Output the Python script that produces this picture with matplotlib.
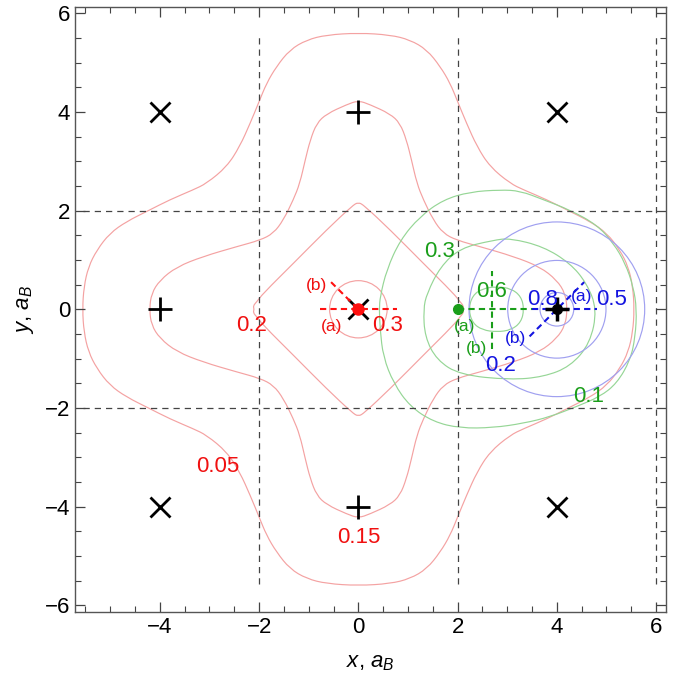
import numpy as np
import matplotlib
matplotlib.use("Agg")
import matplotlib.pyplot as plt
from matplotlib.patches import Circle, PathPatch
from matplotlib.path import Path

plt.rcParams['font.family'] = ['Liberation Sans', 'DejaVu Sans']
plt.rcParams['mathtext.fontset'] = 'custom'
plt.rcParams['mathtext.rm'] = 'Liberation Sans'
plt.rcParams['mathtext.it'] = 'Liberation Sans:italic'

# red contours: upper-left quarter (top point -> left point), mirrored to the rest
red_005_x = [0, -0.64, -1.04, -1.38, -1.65, -1.85, -2.0, -2.18, -2.39, -2.65, -3.06, -3.33,
             -3.80, -4.23, -4.67, -5.01, -5.27, -5.44, -5.53, -5.56]
red_005_y = [5.6, 5.56, 5.46, 5.26, 4.92, 4.58, 4.21, 3.77, 3.30, 2.89, 2.55, 2.42,
             2.22, 2.0, 1.78, 1.54, 1.20, 0.86, 0.46, 0]
red_015_x = [0, -0.23, -0.64, -0.84, -0.97, -1.07, -1.18, -1.31, -1.51, -1.71, -1.98, -2.45,
             -3.13, -3.66, -4.0, -4.17, -4.21]
red_015_y = [4.23, 4.15, 3.96, 3.77, 3.43, 3.03, 2.55, 2.22, 1.81, 1.54, 1.40, 1.27,
             1.07, 0.86, 0.59, 0.32, 0]
red_02_x = [0, -0.12, -0.64, -1.31, -1.92, -2.05, -2.12, -2.1]
red_02_y = [2.17, 2.1, 1.61, 0.93, 0.32, 0.15, 0.07, 0]
red_03_r = 0.58

# green contours (closed curves)
green_01_x = [0.42, 0.44, 0.57, 0.84, 1.24, 1.71, 2.25, 2.86, 3.26, 3.73, 4.27, 4.81, 5.14, 5.38,
              5.54, 5.61, 5.58, 5.48, 5.21, 4.87, 4.40, 3.86, 3.33, 2.72, 2.05, 1.51, 1.04,
              0.71, 0.50, 0.44]
green_01_y = [0, 0.26, 0.80, 1.40, 1.88, 2.22, 2.38, 2.42, 2.40, 2.22, 2.01, 1.71, 1.34, 0.93,
              0.46, 0, -0.56, -1.03, -1.50, -1.77, -1.97, -2.18, -2.31, -2.40, -2.41, -2.28,
              -1.97, -1.50, -0.96, -0.42]
green_03_x = [1.31, 1.38, 1.65, 2.05, 2.72, 3.06, 3.73, 4.27, 4.60, 4.81, 4.67, 4.27, 3.73,
              3.06, 2.05, 1.58, 1.34]
green_03_y = [0, 0.32, 0.86, 1.24, 1.40, 1.44, 1.27, 0.93, 0.53, 0, -0.69, -1.16, -1.37,
              -1.43, -1.33, -1.03, -0.56]
green_06_x = [2.22, 2.30, 2.50, 2.79, 3.08, 3.28, 3.34, 3.28, 3.08, 2.79, 2.50, 2.30]
green_06_y = [0, 0.28, 0.42, 0.46, 0.42, 0.26, 0, -0.26, -0.42, -0.46, -0.42, -0.28]

# blue contours: circles about the (4, 0) site
blue_centre = (4.0, 0.0)
blue_radii = [1.77, 0.99, 0.34]

# lattice sites
cross_x = [0, -4, 4, -4, 4]
cross_y = [0, 4, 4, -4, -4]
plus_x = [0, 0, -4]
plus_y = [4, -4, 0]

# contour labels
red_lab = [("0.05", -2.83, -3.18), ("0.15", 0, -4.62), ("0.2", -2.15, -0.32), ("0.3", 0.58, -0.32)]
green_lab = [("0.3", 1.64, 1.17), ("0.6", 2.68, 0.36), ("0.1", 4.64, -1.77)]
blue_lab = [("0.8", 3.72, 0.19), ("0.5", 5.11, 0.19), ("0.2", 2.86, -1.13)]

red_line = '#f4a2a2'
green_line = '#96d696'
blue_line = '#a0a0f0'
red_txt = '#f01010'
green_txt = '#1a9e1a'
blue_txt = '#1414e0'


def full_curve(qx, qy):
    qx = np.array(qx)
    qy = np.array(qy)
    xs = np.concatenate([qx, qx[::-1][1:], -qx[1:], -qx[::-1][1:-1]])
    ys = np.concatenate([qy, -qy[::-1][1:], -qy[1:], qy[::-1][1:-1]])
    return xs, ys


def smooth_path(xs, ys):
    # closed quadratic-bezier path through the midpoints, data points as controls
    pts = np.column_stack([xs, ys])
    mids = (pts + np.roll(pts, -1, axis=0)) / 2
    verts = [mids[-1]]
    codes = [Path.MOVETO]
    for i in range(len(pts)):
        verts += [pts[i], mids[i]]
        codes += [Path.CURVE3, Path.CURVE3]
    return Path(verts, codes)


fig = plt.figure(figsize=(6.77, 6.80), dpi=100)
ax = fig.add_axes([0.1108, 0.0996, 0.873, 0.8897])

for qx, qy in [(red_005_x, red_005_y), (red_015_x, red_015_y), (red_02_x, red_02_y)]:
    xs, ys = full_curve(qx, qy)
    ax.add_patch(PathPatch(smooth_path(xs, ys), fill=False, ec=red_line, lw=0.85))
ax.add_patch(Circle((0, 0), red_03_r, fill=False, ec=red_line, lw=0.85))

for gx, gy in [(green_01_x, green_01_y), (green_03_x, green_03_y), (green_06_x, green_06_y)]:
    ax.add_patch(PathPatch(smooth_path(gx, gy), fill=False, ec=green_line, lw=0.85))

for r in blue_radii:
    ax.add_patch(Circle(blue_centre, r, fill=False, ec=blue_line, lw=0.85))

# cell boundaries
for xv in [-2, 2, 6]:
    ax.plot([xv, xv], [-5.57, 5.57], color='#444444', lw=0.9, ls=(0, (5, 4)))
for yv in [-2, 2]:
    ax.plot([-5.55, 5.97], [yv, yv], color='#444444', lw=0.9, ls=(0, (5, 4)))

ax.plot(cross_x, cross_y, ls='none', marker='x', ms=15, mew=2.0, color='black')
ax.plot(plus_x, plus_y, ls='none', marker='+', ms=17, mew=2.0, color='black')

# path markers
ax.plot([-0.78, 0.78], [0, 0], color='#ff1010', lw=1.5, ls=(0, (3, 2)))
ax.plot([-0.55, 0], [0.55, 0], color='#ff1010', lw=1.5, ls=(0, (3, 2)))
ax.plot([0], [0], 'o', color='#ff1010', ms=8)
ax.plot([2.0, 3.5], [0, 0], color='#1a9e1a', lw=1.5, ls=(0, (3, 2)))
ax.plot([2.7, 2.7], [-0.8, 0.77], color='#1a9e1a', lw=1.5, ls=(0, (3, 2)))
ax.plot([2.0], [0], 'o', color='#1a9e1a', ms=7)
ax.plot([3.5, 4.8], [0, 0], color='#1414e0', lw=1.5, ls=(0, (3, 2)))
ax.plot([3.45, 4.55], [-0.55, 0.55], color='#1414e0', lw=1.5, ls=(0, (3, 2)))
ax.plot([4], [0], '+', color='black', ms=17, mew=2.5)
ax.plot([4], [0], 'o', color='black', ms=7)

ax.text(-0.84, 0.49, "(b)", color=red_txt, fontsize=12.5, ha='center', va='center')
ax.text(-0.54, -0.35, "(a)", color=red_txt, fontsize=12.5, ha='center', va='center')
ax.text(2.15, -0.35, "(a)", color=green_txt, fontsize=12.5, ha='center', va='center')
ax.text(2.39, -0.79, "(b)", color=green_txt, fontsize=12.5, ha='center', va='center')
ax.text(4.5, 0.26, "(a)", color=blue_txt, fontsize=12.5, ha='center', va='center')
ax.text(3.16, -0.59, "(b)", color=blue_txt, fontsize=12.5, ha='center', va='center')

for lab, lx, ly in red_lab:
    ax.text(lx, ly, lab, color=red_txt, fontsize=16, ha='center', va='center')
for lab, lx, ly in green_lab:
    ax.text(lx, ly, lab, color=green_txt, fontsize=16, ha='center', va='center')
for lab, lx, ly in blue_lab:
    ax.text(lx, ly, lab, color=blue_txt, fontsize=16, ha='center', va='center')

ax.set_xlim(-5.71, 6.2)
ax.set_ylim(-6.14, 6.12)
ax.set_xticks([-4, -2, 0, 2, 4, 6])
ax.set_yticks([-6, -4, -2, 0, 2, 4, 6])
ax.set_xticks(np.arange(-5.5, 6.01, 0.5), minor=True)
ax.set_yticks(np.arange(-6, 6.01, 0.5), minor=True)
ax.tick_params(which='both', direction='in', top=True, right=True, labelsize=16, color='#444444')
ax.tick_params(which='major', length=7, width=0.9)
ax.tick_params(which='minor', length=4, width=0.8)
for s in ax.spines.values():
    s.set_color('#555555')
    s.set_linewidth(1.0)

ax.set_xlabel("$x$, $a_B$", fontsize=16, labelpad=10)
ax.set_ylabel("$y$, $a_B$", fontsize=16, labelpad=6)

fig.savefig("out.png", dpi=100)
